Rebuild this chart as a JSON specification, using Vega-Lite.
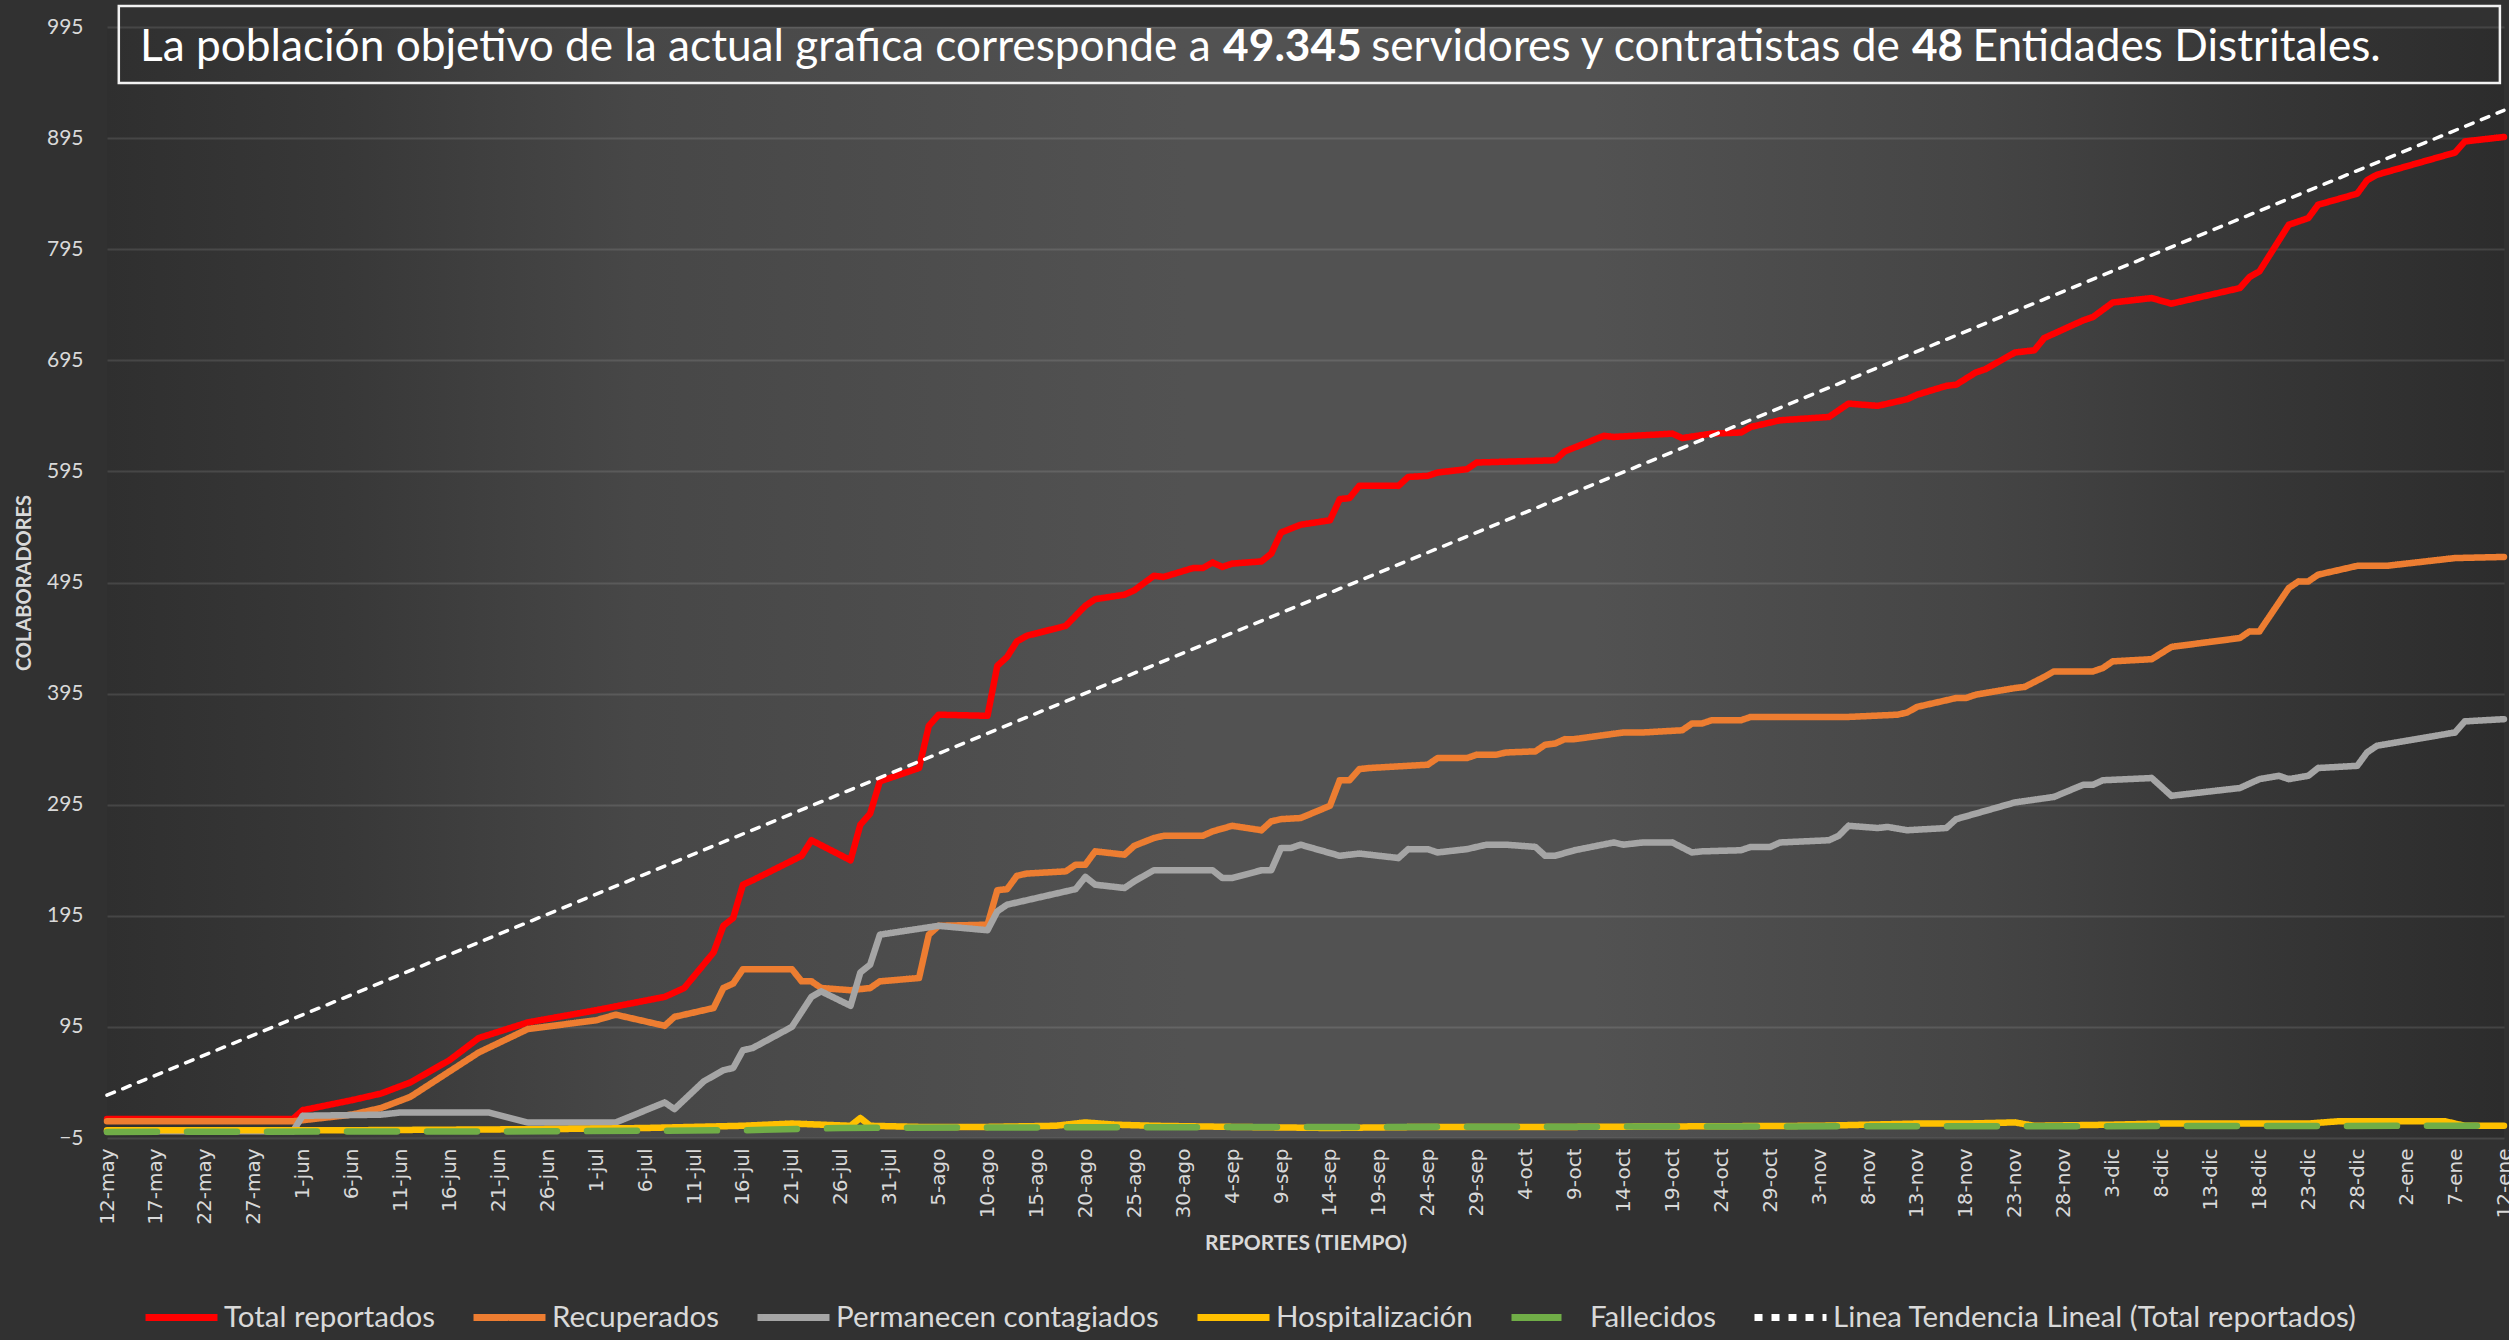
{
  "$schema": "https://vega.github.io/schema/vega-lite/v6.json",
  "usermeta": {"embedOptions": {"actions": false}},
  "width": 2397,
  "height": 1111,
  "autosize": {"type": "none"},
  "padding": {"left": 107, "top": 27, "right": 5, "bottom": 202},
  "background": "#313131",
  "config": {
    "view": {
      "stroke": null,
      "fill": {
        "gradient": "linear",
        "x1": 0, "y1": 0.5, "x2": 1, "y2": 0.5,
        "stops": [
          {"offset": 0, "color": "#2f2f2f"},
          {"offset": 0.1, "color": "#383838"},
          {"offset": 0.22, "color": "#474747"},
          {"offset": 0.45, "color": "#525252"},
          {"offset": 0.62, "color": "#525252"},
          {"offset": 0.78, "color": "#454545"},
          {"offset": 0.9, "color": "#363636"},
          {"offset": 1, "color": "#2c2c2c"}
        ]
      }
    },
    "legend": {
      "orient": "none",
      "legendX": 35,
      "legendY": 1251,
      "direction": "horizontal",
      "symbolType": "stroke",
      "symbolSize": 5184,
      "symbolStrokeWidth": 7,
      "labelFont": "Lato",
      "labelFontSize": 29.5,
      "labelColor": "#d9d9d9",
      "labelOffset": 3,
      "labelLimit": 0,
      "columnPadding": 24
    }
  },
  "datasets": {
    "series": [
      {"fecha": "2020-05-12", "serie": "Total reportados", "valor": 12},
      {"fecha": "2020-05-31", "serie": "Total reportados", "valor": 12},
      {"fecha": "2020-06-01", "serie": "Total reportados", "valor": 20},
      {"fecha": "2020-06-06", "serie": "Total reportados", "valor": 29},
      {"fecha": "2020-06-09", "serie": "Total reportados", "valor": 35},
      {"fecha": "2020-06-12", "serie": "Total reportados", "valor": 45},
      {"fecha": "2020-06-16", "serie": "Total reportados", "valor": 65},
      {"fecha": "2020-06-19", "serie": "Total reportados", "valor": 85},
      {"fecha": "2020-06-24", "serie": "Total reportados", "valor": 99},
      {"fecha": "2020-07-01", "serie": "Total reportados", "valor": 110},
      {"fecha": "2020-07-08", "serie": "Total reportados", "valor": 122},
      {"fecha": "2020-07-10", "serie": "Total reportados", "valor": 130},
      {"fecha": "2020-07-13", "serie": "Total reportados", "valor": 162},
      {"fecha": "2020-07-14", "serie": "Total reportados", "valor": 186},
      {"fecha": "2020-07-15", "serie": "Total reportados", "valor": 193},
      {"fecha": "2020-07-16", "serie": "Total reportados", "valor": 223},
      {"fecha": "2020-07-17", "serie": "Total reportados", "valor": 227},
      {"fecha": "2020-07-22", "serie": "Total reportados", "valor": 249},
      {"fecha": "2020-07-23", "serie": "Total reportados", "valor": 263},
      {"fecha": "2020-07-27", "serie": "Total reportados", "valor": 245},
      {"fecha": "2020-07-28", "serie": "Total reportados", "valor": 277},
      {"fecha": "2020-07-29", "serie": "Total reportados", "valor": 287},
      {"fecha": "2020-07-30", "serie": "Total reportados", "valor": 316},
      {"fecha": "2020-07-31", "serie": "Total reportados", "valor": 319},
      {"fecha": "2020-08-03", "serie": "Total reportados", "valor": 328},
      {"fecha": "2020-08-04", "serie": "Total reportados", "valor": 366},
      {"fecha": "2020-08-05", "serie": "Total reportados", "valor": 376},
      {"fecha": "2020-08-10", "serie": "Total reportados", "valor": 375},
      {"fecha": "2020-08-11", "serie": "Total reportados", "valor": 420},
      {"fecha": "2020-08-12", "serie": "Total reportados", "valor": 428},
      {"fecha": "2020-08-13", "serie": "Total reportados", "valor": 442},
      {"fecha": "2020-08-14", "serie": "Total reportados", "valor": 447},
      {"fecha": "2020-08-18", "serie": "Total reportados", "valor": 456},
      {"fecha": "2020-08-20", "serie": "Total reportados", "valor": 474},
      {"fecha": "2020-08-21", "serie": "Total reportados", "valor": 480},
      {"fecha": "2020-08-24", "serie": "Total reportados", "valor": 484},
      {"fecha": "2020-08-25", "serie": "Total reportados", "valor": 488},
      {"fecha": "2020-08-27", "serie": "Total reportados", "valor": 501},
      {"fecha": "2020-08-28", "serie": "Total reportados", "valor": 500},
      {"fecha": "2020-08-31", "serie": "Total reportados", "valor": 508},
      {"fecha": "2020-09-01", "serie": "Total reportados", "valor": 508},
      {"fecha": "2020-09-02", "serie": "Total reportados", "valor": 513},
      {"fecha": "2020-09-03", "serie": "Total reportados", "valor": 509},
      {"fecha": "2020-09-04", "serie": "Total reportados", "valor": 512},
      {"fecha": "2020-09-07", "serie": "Total reportados", "valor": 514},
      {"fecha": "2020-09-08", "serie": "Total reportados", "valor": 521},
      {"fecha": "2020-09-09", "serie": "Total reportados", "valor": 540},
      {"fecha": "2020-09-11", "serie": "Total reportados", "valor": 547},
      {"fecha": "2020-09-14", "serie": "Total reportados", "valor": 551},
      {"fecha": "2020-09-15", "serie": "Total reportados", "valor": 570},
      {"fecha": "2020-09-16", "serie": "Total reportados", "valor": 571},
      {"fecha": "2020-09-17", "serie": "Total reportados", "valor": 582},
      {"fecha": "2020-09-21", "serie": "Total reportados", "valor": 582},
      {"fecha": "2020-09-22", "serie": "Total reportados", "valor": 590},
      {"fecha": "2020-09-24", "serie": "Total reportados", "valor": 591},
      {"fecha": "2020-09-25", "serie": "Total reportados", "valor": 594},
      {"fecha": "2020-09-28", "serie": "Total reportados", "valor": 597},
      {"fecha": "2020-09-29", "serie": "Total reportados", "valor": 603},
      {"fecha": "2020-10-07", "serie": "Total reportados", "valor": 605},
      {"fecha": "2020-10-08", "serie": "Total reportados", "valor": 613},
      {"fecha": "2020-10-12", "serie": "Total reportados", "valor": 627},
      {"fecha": "2020-10-13", "serie": "Total reportados", "valor": 626},
      {"fecha": "2020-10-19", "serie": "Total reportados", "valor": 629},
      {"fecha": "2020-10-20", "serie": "Total reportados", "valor": 625},
      {"fecha": "2020-10-23", "serie": "Total reportados", "valor": 629},
      {"fecha": "2020-10-26", "serie": "Total reportados", "valor": 630},
      {"fecha": "2020-10-27", "serie": "Total reportados", "valor": 635},
      {"fecha": "2020-10-28", "serie": "Total reportados", "valor": 637},
      {"fecha": "2020-10-30", "serie": "Total reportados", "valor": 641},
      {"fecha": "2020-11-04", "serie": "Total reportados", "valor": 644},
      {"fecha": "2020-11-06", "serie": "Total reportados", "valor": 656},
      {"fecha": "2020-11-09", "serie": "Total reportados", "valor": 654},
      {"fecha": "2020-11-10", "serie": "Total reportados", "valor": 656},
      {"fecha": "2020-11-12", "serie": "Total reportados", "valor": 660},
      {"fecha": "2020-11-13", "serie": "Total reportados", "valor": 664},
      {"fecha": "2020-11-16", "serie": "Total reportados", "valor": 672},
      {"fecha": "2020-11-17", "serie": "Total reportados", "valor": 673},
      {"fecha": "2020-11-19", "serie": "Total reportados", "valor": 684},
      {"fecha": "2020-11-20", "serie": "Total reportados", "valor": 687},
      {"fecha": "2020-11-23", "serie": "Total reportados", "valor": 702},
      {"fecha": "2020-11-25", "serie": "Total reportados", "valor": 704},
      {"fecha": "2020-11-26", "serie": "Total reportados", "valor": 715},
      {"fecha": "2020-11-30", "serie": "Total reportados", "valor": 731},
      {"fecha": "2020-12-01", "serie": "Total reportados", "valor": 734},
      {"fecha": "2020-12-03", "serie": "Total reportados", "valor": 747},
      {"fecha": "2020-12-07", "serie": "Total reportados", "valor": 751},
      {"fecha": "2020-12-09", "serie": "Total reportados", "valor": 746},
      {"fecha": "2020-12-16", "serie": "Total reportados", "valor": 760},
      {"fecha": "2020-12-17", "serie": "Total reportados", "valor": 770},
      {"fecha": "2020-12-18", "serie": "Total reportados", "valor": 775},
      {"fecha": "2020-12-21", "serie": "Total reportados", "valor": 817},
      {"fecha": "2020-12-23", "serie": "Total reportados", "valor": 823},
      {"fecha": "2020-12-24", "serie": "Total reportados", "valor": 835},
      {"fecha": "2020-12-28", "serie": "Total reportados", "valor": 845},
      {"fecha": "2020-12-29", "serie": "Total reportados", "valor": 857},
      {"fecha": "2020-12-30", "serie": "Total reportados", "valor": 862},
      {"fecha": "2021-01-07", "serie": "Total reportados", "valor": 882},
      {"fecha": "2021-01-08", "serie": "Total reportados", "valor": 892},
      {"fecha": "2021-01-12", "serie": "Total reportados", "valor": 896},

      {"fecha": "2020-05-12", "serie": "Recuperados", "valor": 10},
      {"fecha": "2020-05-31", "serie": "Recuperados", "valor": 10},
      {"fecha": "2020-06-01", "serie": "Recuperados", "valor": 11},
      {"fecha": "2020-06-06", "serie": "Recuperados", "valor": 16},
      {"fecha": "2020-06-09", "serie": "Recuperados", "valor": 22},
      {"fecha": "2020-06-12", "serie": "Recuperados", "valor": 32},
      {"fecha": "2020-06-19", "serie": "Recuperados", "valor": 72},
      {"fecha": "2020-06-24", "serie": "Recuperados", "valor": 93},
      {"fecha": "2020-07-01", "serie": "Recuperados", "valor": 101},
      {"fecha": "2020-07-03", "serie": "Recuperados", "valor": 106},
      {"fecha": "2020-07-08", "serie": "Recuperados", "valor": 96},
      {"fecha": "2020-07-09", "serie": "Recuperados", "valor": 104},
      {"fecha": "2020-07-13", "serie": "Recuperados", "valor": 112},
      {"fecha": "2020-07-14", "serie": "Recuperados", "valor": 130},
      {"fecha": "2020-07-15", "serie": "Recuperados", "valor": 134},
      {"fecha": "2020-07-16", "serie": "Recuperados", "valor": 147},
      {"fecha": "2020-07-21", "serie": "Recuperados", "valor": 147},
      {"fecha": "2020-07-22", "serie": "Recuperados", "valor": 136},
      {"fecha": "2020-07-23", "serie": "Recuperados", "valor": 136},
      {"fecha": "2020-07-24", "serie": "Recuperados", "valor": 130},
      {"fecha": "2020-07-27", "serie": "Recuperados", "valor": 128},
      {"fecha": "2020-07-29", "serie": "Recuperados", "valor": 130},
      {"fecha": "2020-07-30", "serie": "Recuperados", "valor": 136},
      {"fecha": "2020-08-03", "serie": "Recuperados", "valor": 139},
      {"fecha": "2020-08-04", "serie": "Recuperados", "valor": 178},
      {"fecha": "2020-08-05", "serie": "Recuperados", "valor": 186},
      {"fecha": "2020-08-10", "serie": "Recuperados", "valor": 187},
      {"fecha": "2020-08-11", "serie": "Recuperados", "valor": 218},
      {"fecha": "2020-08-12", "serie": "Recuperados", "valor": 219},
      {"fecha": "2020-08-13", "serie": "Recuperados", "valor": 231},
      {"fecha": "2020-08-14", "serie": "Recuperados", "valor": 233},
      {"fecha": "2020-08-18", "serie": "Recuperados", "valor": 235},
      {"fecha": "2020-08-19", "serie": "Recuperados", "valor": 241},
      {"fecha": "2020-08-20", "serie": "Recuperados", "valor": 241},
      {"fecha": "2020-08-21", "serie": "Recuperados", "valor": 253},
      {"fecha": "2020-08-24", "serie": "Recuperados", "valor": 250},
      {"fecha": "2020-08-25", "serie": "Recuperados", "valor": 258},
      {"fecha": "2020-08-27", "serie": "Recuperados", "valor": 265},
      {"fecha": "2020-08-28", "serie": "Recuperados", "valor": 267},
      {"fecha": "2020-09-01", "serie": "Recuperados", "valor": 267},
      {"fecha": "2020-09-02", "serie": "Recuperados", "valor": 271},
      {"fecha": "2020-09-04", "serie": "Recuperados", "valor": 276},
      {"fecha": "2020-09-07", "serie": "Recuperados", "valor": 272},
      {"fecha": "2020-09-08", "serie": "Recuperados", "valor": 280},
      {"fecha": "2020-09-09", "serie": "Recuperados", "valor": 282},
      {"fecha": "2020-09-11", "serie": "Recuperados", "valor": 283},
      {"fecha": "2020-09-14", "serie": "Recuperados", "valor": 294},
      {"fecha": "2020-09-15", "serie": "Recuperados", "valor": 317},
      {"fecha": "2020-09-16", "serie": "Recuperados", "valor": 317},
      {"fecha": "2020-09-17", "serie": "Recuperados", "valor": 327},
      {"fecha": "2020-09-18", "serie": "Recuperados", "valor": 328},
      {"fecha": "2020-09-24", "serie": "Recuperados", "valor": 331},
      {"fecha": "2020-09-25", "serie": "Recuperados", "valor": 337},
      {"fecha": "2020-09-28", "serie": "Recuperados", "valor": 337},
      {"fecha": "2020-09-29", "serie": "Recuperados", "valor": 340},
      {"fecha": "2020-10-01", "serie": "Recuperados", "valor": 340},
      {"fecha": "2020-10-02", "serie": "Recuperados", "valor": 342},
      {"fecha": "2020-10-05", "serie": "Recuperados", "valor": 343},
      {"fecha": "2020-10-06", "serie": "Recuperados", "valor": 349},
      {"fecha": "2020-10-07", "serie": "Recuperados", "valor": 350},
      {"fecha": "2020-10-08", "serie": "Recuperados", "valor": 354},
      {"fecha": "2020-10-09", "serie": "Recuperados", "valor": 354},
      {"fecha": "2020-10-14", "serie": "Recuperados", "valor": 360},
      {"fecha": "2020-10-16", "serie": "Recuperados", "valor": 360},
      {"fecha": "2020-10-20", "serie": "Recuperados", "valor": 362},
      {"fecha": "2020-10-21", "serie": "Recuperados", "valor": 368},
      {"fecha": "2020-10-22", "serie": "Recuperados", "valor": 368},
      {"fecha": "2020-10-23", "serie": "Recuperados", "valor": 371},
      {"fecha": "2020-10-26", "serie": "Recuperados", "valor": 371},
      {"fecha": "2020-10-27", "serie": "Recuperados", "valor": 374},
      {"fecha": "2020-11-06", "serie": "Recuperados", "valor": 374},
      {"fecha": "2020-11-11", "serie": "Recuperados", "valor": 376},
      {"fecha": "2020-11-12", "serie": "Recuperados", "valor": 378},
      {"fecha": "2020-11-13", "serie": "Recuperados", "valor": 383},
      {"fecha": "2020-11-17", "serie": "Recuperados", "valor": 391},
      {"fecha": "2020-11-18", "serie": "Recuperados", "valor": 391},
      {"fecha": "2020-11-19", "serie": "Recuperados", "valor": 394},
      {"fecha": "2020-11-23", "serie": "Recuperados", "valor": 400},
      {"fecha": "2020-11-24", "serie": "Recuperados", "valor": 401},
      {"fecha": "2020-11-26", "serie": "Recuperados", "valor": 410},
      {"fecha": "2020-11-27", "serie": "Recuperados", "valor": 415},
      {"fecha": "2020-12-01", "serie": "Recuperados", "valor": 415},
      {"fecha": "2020-12-02", "serie": "Recuperados", "valor": 418},
      {"fecha": "2020-12-03", "serie": "Recuperados", "valor": 424},
      {"fecha": "2020-12-07", "serie": "Recuperados", "valor": 426},
      {"fecha": "2020-12-09", "serie": "Recuperados", "valor": 437},
      {"fecha": "2020-12-16", "serie": "Recuperados", "valor": 445},
      {"fecha": "2020-12-17", "serie": "Recuperados", "valor": 451},
      {"fecha": "2020-12-18", "serie": "Recuperados", "valor": 451},
      {"fecha": "2020-12-21", "serie": "Recuperados", "valor": 490},
      {"fecha": "2020-12-22", "serie": "Recuperados", "valor": 496},
      {"fecha": "2020-12-23", "serie": "Recuperados", "valor": 496},
      {"fecha": "2020-12-24", "serie": "Recuperados", "valor": 502},
      {"fecha": "2020-12-28", "serie": "Recuperados", "valor": 510},
      {"fecha": "2020-12-31", "serie": "Recuperados", "valor": 510},
      {"fecha": "2021-01-07", "serie": "Recuperados", "valor": 517},
      {"fecha": "2021-01-12", "serie": "Recuperados", "valor": 518},

      {"fecha": "2020-05-12", "serie": "Permanecen contagiados", "valor": 1},
      {"fecha": "2020-05-31", "serie": "Permanecen contagiados", "valor": 1},
      {"fecha": "2020-06-01", "serie": "Permanecen contagiados", "valor": 15},
      {"fecha": "2020-06-09", "serie": "Permanecen contagiados", "valor": 16},
      {"fecha": "2020-06-11", "serie": "Permanecen contagiados", "valor": 18},
      {"fecha": "2020-06-20", "serie": "Permanecen contagiados", "valor": 18},
      {"fecha": "2020-06-24", "serie": "Permanecen contagiados", "valor": 9},
      {"fecha": "2020-07-03", "serie": "Permanecen contagiados", "valor": 9},
      {"fecha": "2020-07-08", "serie": "Permanecen contagiados", "valor": 27},
      {"fecha": "2020-07-09", "serie": "Permanecen contagiados", "valor": 21},
      {"fecha": "2020-07-12", "serie": "Permanecen contagiados", "valor": 46},
      {"fecha": "2020-07-14", "serie": "Permanecen contagiados", "valor": 56},
      {"fecha": "2020-07-15", "serie": "Permanecen contagiados", "valor": 58},
      {"fecha": "2020-07-16", "serie": "Permanecen contagiados", "valor": 74},
      {"fecha": "2020-07-17", "serie": "Permanecen contagiados", "valor": 76},
      {"fecha": "2020-07-21", "serie": "Permanecen contagiados", "valor": 95},
      {"fecha": "2020-07-23", "serie": "Permanecen contagiados", "valor": 122},
      {"fecha": "2020-07-24", "serie": "Permanecen contagiados", "valor": 127},
      {"fecha": "2020-07-27", "serie": "Permanecen contagiados", "valor": 114},
      {"fecha": "2020-07-28", "serie": "Permanecen contagiados", "valor": 144},
      {"fecha": "2020-07-29", "serie": "Permanecen contagiados", "valor": 151},
      {"fecha": "2020-07-30", "serie": "Permanecen contagiados", "valor": 178},
      {"fecha": "2020-08-05", "serie": "Permanecen contagiados", "valor": 186},
      {"fecha": "2020-08-10", "serie": "Permanecen contagiados", "valor": 182},
      {"fecha": "2020-08-11", "serie": "Permanecen contagiados", "valor": 199},
      {"fecha": "2020-08-12", "serie": "Permanecen contagiados", "valor": 205},
      {"fecha": "2020-08-19", "serie": "Permanecen contagiados", "valor": 219},
      {"fecha": "2020-08-20", "serie": "Permanecen contagiados", "valor": 230},
      {"fecha": "2020-08-21", "serie": "Permanecen contagiados", "valor": 223},
      {"fecha": "2020-08-24", "serie": "Permanecen contagiados", "valor": 220},
      {"fecha": "2020-08-25", "serie": "Permanecen contagiados", "valor": 226},
      {"fecha": "2020-08-27", "serie": "Permanecen contagiados", "valor": 236},
      {"fecha": "2020-09-02", "serie": "Permanecen contagiados", "valor": 236},
      {"fecha": "2020-09-03", "serie": "Permanecen contagiados", "valor": 229},
      {"fecha": "2020-09-04", "serie": "Permanecen contagiados", "valor": 229},
      {"fecha": "2020-09-07", "serie": "Permanecen contagiados", "valor": 236},
      {"fecha": "2020-09-08", "serie": "Permanecen contagiados", "valor": 236},
      {"fecha": "2020-09-09", "serie": "Permanecen contagiados", "valor": 256},
      {"fecha": "2020-09-10", "serie": "Permanecen contagiados", "valor": 256},
      {"fecha": "2020-09-11", "serie": "Permanecen contagiados", "valor": 259},
      {"fecha": "2020-09-15", "serie": "Permanecen contagiados", "valor": 249},
      {"fecha": "2020-09-17", "serie": "Permanecen contagiados", "valor": 251},
      {"fecha": "2020-09-21", "serie": "Permanecen contagiados", "valor": 247},
      {"fecha": "2020-09-22", "serie": "Permanecen contagiados", "valor": 255},
      {"fecha": "2020-09-24", "serie": "Permanecen contagiados", "valor": 255},
      {"fecha": "2020-09-25", "serie": "Permanecen contagiados", "valor": 252},
      {"fecha": "2020-09-28", "serie": "Permanecen contagiados", "valor": 255},
      {"fecha": "2020-09-30", "serie": "Permanecen contagiados", "valor": 259},
      {"fecha": "2020-10-02", "serie": "Permanecen contagiados", "valor": 259},
      {"fecha": "2020-10-05", "serie": "Permanecen contagiados", "valor": 257},
      {"fecha": "2020-10-06", "serie": "Permanecen contagiados", "valor": 249},
      {"fecha": "2020-10-07", "serie": "Permanecen contagiados", "valor": 249},
      {"fecha": "2020-10-09", "serie": "Permanecen contagiados", "valor": 254},
      {"fecha": "2020-10-13", "serie": "Permanecen contagiados", "valor": 261},
      {"fecha": "2020-10-14", "serie": "Permanecen contagiados", "valor": 259},
      {"fecha": "2020-10-16", "serie": "Permanecen contagiados", "valor": 261},
      {"fecha": "2020-10-19", "serie": "Permanecen contagiados", "valor": 261},
      {"fecha": "2020-10-21", "serie": "Permanecen contagiados", "valor": 252},
      {"fecha": "2020-10-22", "serie": "Permanecen contagiados", "valor": 253},
      {"fecha": "2020-10-26", "serie": "Permanecen contagiados", "valor": 254},
      {"fecha": "2020-10-27", "serie": "Permanecen contagiados", "valor": 257},
      {"fecha": "2020-10-29", "serie": "Permanecen contagiados", "valor": 257},
      {"fecha": "2020-10-30", "serie": "Permanecen contagiados", "valor": 261},
      {"fecha": "2020-11-04", "serie": "Permanecen contagiados", "valor": 263},
      {"fecha": "2020-11-05", "serie": "Permanecen contagiados", "valor": 267},
      {"fecha": "2020-11-06", "serie": "Permanecen contagiados", "valor": 276},
      {"fecha": "2020-11-09", "serie": "Permanecen contagiados", "valor": 274},
      {"fecha": "2020-11-10", "serie": "Permanecen contagiados", "valor": 275},
      {"fecha": "2020-11-12", "serie": "Permanecen contagiados", "valor": 272},
      {"fecha": "2020-11-16", "serie": "Permanecen contagiados", "valor": 274},
      {"fecha": "2020-11-17", "serie": "Permanecen contagiados", "valor": 282},
      {"fecha": "2020-11-19", "serie": "Permanecen contagiados", "valor": 287},
      {"fecha": "2020-11-21", "serie": "Permanecen contagiados", "valor": 292},
      {"fecha": "2020-11-23", "serie": "Permanecen contagiados", "valor": 297},
      {"fecha": "2020-11-27", "serie": "Permanecen contagiados", "valor": 302},
      {"fecha": "2020-11-30", "serie": "Permanecen contagiados", "valor": 313},
      {"fecha": "2020-12-01", "serie": "Permanecen contagiados", "valor": 313},
      {"fecha": "2020-12-02", "serie": "Permanecen contagiados", "valor": 317},
      {"fecha": "2020-12-07", "serie": "Permanecen contagiados", "valor": 319},
      {"fecha": "2020-12-09", "serie": "Permanecen contagiados", "valor": 303},
      {"fecha": "2020-12-16", "serie": "Permanecen contagiados", "valor": 310},
      {"fecha": "2020-12-18", "serie": "Permanecen contagiados", "valor": 318},
      {"fecha": "2020-12-20", "serie": "Permanecen contagiados", "valor": 321},
      {"fecha": "2020-12-21", "serie": "Permanecen contagiados", "valor": 318},
      {"fecha": "2020-12-23", "serie": "Permanecen contagiados", "valor": 321},
      {"fecha": "2020-12-24", "serie": "Permanecen contagiados", "valor": 328},
      {"fecha": "2020-12-28", "serie": "Permanecen contagiados", "valor": 330},
      {"fecha": "2020-12-29", "serie": "Permanecen contagiados", "valor": 342},
      {"fecha": "2020-12-30", "serie": "Permanecen contagiados", "valor": 348},
      {"fecha": "2021-01-07", "serie": "Permanecen contagiados", "valor": 360},
      {"fecha": "2021-01-08", "serie": "Permanecen contagiados", "valor": 370},
      {"fecha": "2021-01-12", "serie": "Permanecen contagiados", "valor": 372},

      {"fecha": "2020-05-12", "serie": "Hospitalización", "valor": 2},
      {"fecha": "2020-05-31", "serie": "Hospitalización", "valor": 2},
      {"fecha": "2020-06-06", "serie": "Hospitalización", "valor": 2},
      {"fecha": "2020-06-26", "serie": "Hospitalización", "valor": 3},
      {"fecha": "2020-07-06", "serie": "Hospitalización", "valor": 4},
      {"fecha": "2020-07-11", "serie": "Hospitalización", "valor": 5},
      {"fecha": "2020-07-16", "serie": "Hospitalización", "valor": 6},
      {"fecha": "2020-07-21", "serie": "Hospitalización", "valor": 8},
      {"fecha": "2020-07-24", "serie": "Hospitalización", "valor": 7},
      {"fecha": "2020-07-27", "serie": "Hospitalización", "valor": 6},
      {"fecha": "2020-07-28", "serie": "Hospitalización", "valor": 13},
      {"fecha": "2020-07-29", "serie": "Hospitalización", "valor": 6},
      {"fecha": "2020-08-03", "serie": "Hospitalización", "valor": 5},
      {"fecha": "2020-08-10", "serie": "Hospitalización", "valor": 5},
      {"fecha": "2020-08-17", "serie": "Hospitalización", "valor": 6},
      {"fecha": "2020-08-20", "serie": "Hospitalización", "valor": 9},
      {"fecha": "2020-08-23", "serie": "Hospitalización", "valor": 7},
      {"fecha": "2020-08-27", "serie": "Hospitalización", "valor": 6},
      {"fecha": "2020-09-04", "serie": "Hospitalización", "valor": 5},
      {"fecha": "2020-09-14", "serie": "Hospitalización", "valor": 4},
      {"fecha": "2020-09-24", "serie": "Hospitalización", "valor": 5},
      {"fecha": "2020-10-09", "serie": "Hospitalización", "valor": 5},
      {"fecha": "2020-11-03", "serie": "Hospitalización", "valor": 6},
      {"fecha": "2020-11-13", "serie": "Hospitalización", "valor": 8},
      {"fecha": "2020-11-18", "serie": "Hospitalización", "valor": 8},
      {"fecha": "2020-11-23", "serie": "Hospitalización", "valor": 9},
      {"fecha": "2020-11-25", "serie": "Hospitalización", "valor": 6},
      {"fecha": "2020-12-03", "serie": "Hospitalización", "valor": 7},
      {"fecha": "2020-12-08", "serie": "Hospitalización", "valor": 8},
      {"fecha": "2020-12-23", "serie": "Hospitalización", "valor": 8},
      {"fecha": "2020-12-26", "serie": "Hospitalización", "valor": 10},
      {"fecha": "2021-01-06", "serie": "Hospitalización", "valor": 10},
      {"fecha": "2021-01-08", "serie": "Hospitalización", "valor": 6},
      {"fecha": "2021-01-12", "serie": "Hospitalización", "valor": 6},

      {"fecha": "2020-05-12", "serie": "Fallecidos", "valor": 0.5},
      {"fecha": "2020-06-26", "serie": "Fallecidos", "valor": 1},
      {"fecha": "2020-07-16", "serie": "Fallecidos", "valor": 2},
      {"fecha": "2020-07-26", "serie": "Fallecidos", "valor": 4},
      {"fecha": "2020-08-10", "serie": "Fallecidos", "valor": 4.5},
      {"fecha": "2020-09-19", "serie": "Fallecidos", "valor": 5},
      {"fecha": "2020-11-08", "serie": "Fallecidos", "valor": 5.5},
      {"fecha": "2021-01-12", "serie": "Fallecidos", "valor": 6}
    ],
    "tendencia": [
      {"fecha": "2020-05-12", "serie": "Linea Tendencia Lineal (Total reportados)", "valor": 33.5},
      {"fecha": "2021-01-12", "serie": "Linea Tendencia Lineal (Total reportados)", "valor": 920}
    ],
    "uno": [{}]
  },
  "layer": [
    {
      "data": {"name": "series"},
      "mark": {"type": "line", "strokeWidth": 6.5, "strokeCap": "round", "strokeJoin": "round"},
      "encoding": {
        "x": {
          "field": "fecha", "type": "temporal",
          "scale": {"type": "utc", "domain": [1589241600000, 1610409600000]},
          "axis": {
            "title": "REPORTES (TIEMPO)",
            "values": [1589241600000, 1589673600000, 1590105600000, 1590537600000, 1590969600000, 1591401600000, 1591833600000, 1592265600000, 1592697600000, 1593129600000, 1593561600000, 1593993600000, 1594425600000, 1594857600000, 1595289600000, 1595721600000, 1596153600000, 1596585600000, 1597017600000, 1597449600000, 1597881600000, 1598313600000, 1598745600000, 1599177600000, 1599609600000, 1600041600000, 1600473600000, 1600905600000, 1601337600000, 1601769600000, 1602201600000, 1602633600000, 1603065600000, 1603497600000, 1603929600000, 1604361600000, 1604793600000, 1605225600000, 1605657600000, 1606089600000, 1606521600000, 1606953600000, 1607385600000, 1607817600000, 1608249600000, 1608681600000, 1609113600000, 1609545600000, 1609977600000, 1610409600000],
            "labelExpr": "utcdate(datum.value) + '-' + ['ene','feb','mar','abr','may','jun','jul','ago','sep','oct','nov','dic'][utcmonth(datum.value)]",
            "labelAngle": 270,
            "labelFont": "DejaVu Sans",
            "labelFontSize": 20,
            "labelColor": "#d9d9d9",
            "labelPadding": 10,
            "labelOverlap": false,
            "labelFlush": false,
            "ticks": false,
            "domain": false,
            "grid": false,
            "titleFont": "Lato",
            "titleFontSize": 21,
            "titleFontWeight": "bold",
            "titleColor": "#d9d9d9",
            "titlePadding": 8
          }
        },
        "y": {
          "field": "valor", "type": "quantitative",
          "scale": {"domain": [-5, 995], "nice": false, "zero": false},
          "axis": {
            "title": "COLABORADORES",
            "values": [-5, 95, 195, 295, 395, 495, 595, 695, 795, 895, 995],
            "labelFont": "Lato",
            "labelFontSize": 21,
            "labelColor": "#d9d9d9",
            "labelPadding": 24,
            "ticks": false,
            "domain": false,
            "gridColor": "#ffffff",
            "gridOpacity": 0.11,
            "gridWidth": 2,
            "titleFont": "Lato",
            "titleFontSize": 20,
            "titleFontWeight": "bold",
            "titleColor": "#d9d9d9",
            "titlePadding": 12
          }
        },
        "color": {
          "field": "serie", "type": "nominal",
          "scale": {
            "domain": ["Total reportados", "Recuperados", "Permanecen contagiados", "Hospitalización", "Fallecidos", "Linea Tendencia Lineal (Total reportados)"],
            "range": ["#FF0000", "#ED7D31", "#A5A5A5", "#FFC000", "#70AD47", "#FFFFFF"]
          },
          "legend": {"title": null}
        },
        "strokeDash": {
          "field": "serie", "type": "nominal",
          "scale": {
            "domain": ["Total reportados", "Recuperados", "Permanecen contagiados", "Hospitalización", "Fallecidos", "Linea Tendencia Lineal (Total reportados)"],
            "range": [[1, 0], [1, 0], [1, 0], [1, 0], [50, 30], [8, 9]]
          },
          "legend": {"title": null}
        }
      }
    },
    {
      "data": {"name": "tendencia"},
      "mark": {"type": "line", "strokeWidth": 3.5, "strokeCap": "round"},
      "encoding": {
        "x": {"field": "fecha", "type": "temporal"},
        "y": {"field": "valor", "type": "quantitative"},
        "color": {"field": "serie", "type": "nominal"},
        "strokeDash": {"field": "serie", "type": "nominal"}
      }
    },
    {
      "data": {"name": "uno"},
      "mark": {"type": "rect", "fillOpacity": 0, "stroke": "#f2f2f2", "strokeWidth": 2.5},
      "encoding": {
        "x": {"datum": 1589345798400, "type": "temporal"},
        "x2": {"datum": 1610373312000},
        "y": {"datum": 1013.9, "type": "quantitative"},
        "y2": {"datum": 944.6}
      }
    },
    {
      "data": {"name": "uno"},
      "mark": {"type": "text", "text": "La población objetivo de la actual grafica corresponde a", "font": "Lato", "fontSize": 44.2, "color": "#ffffff", "align": "left", "baseline": "alphabetic"},
      "encoding": {
        "x": {"datum": 1589533027200, "type": "temporal"},
        "y": {"datum": 964.7, "type": "quantitative"}
      }
    },
    {
      "data": {"name": "uno"},
      "mark": {"type": "text", "text": "49.345", "font": "Lato", "fontSize": 44.2, "fontWeight": "bold", "color": "#ffffff", "align": "left", "baseline": "alphabetic"},
      "encoding": {
        "x": {"datum": 1599098112000, "type": "temporal"},
        "y": {"datum": 964.7, "type": "quantitative"}
      }
    },
    {
      "data": {"name": "uno"},
      "mark": {"type": "text", "text": "servidores y contratistas de", "font": "Lato", "fontSize": 44.2, "color": "#ffffff", "align": "left", "baseline": "alphabetic"},
      "encoding": {
        "x": {"datum": 1600405344000, "type": "temporal"},
        "y": {"datum": 964.7, "type": "quantitative"}
      }
    },
    {
      "data": {"name": "uno"},
      "mark": {"type": "text", "text": "48", "font": "Lato", "fontSize": 44.2, "fontWeight": "bold", "color": "#ffffff", "align": "left", "baseline": "alphabetic"},
      "encoding": {
        "x": {"datum": 1605180672000, "type": "temporal"},
        "y": {"datum": 964.7, "type": "quantitative"}
      }
    },
    {
      "data": {"name": "uno"},
      "mark": {"type": "text", "text": "Entidades Distritales.", "font": "Lato", "fontSize": 44.2, "color": "#ffffff", "align": "left", "baseline": "alphabetic"},
      "encoding": {
        "x": {"datum": 1605716352000, "type": "temporal"},
        "y": {"datum": 964.7, "type": "quantitative"}
      }
    }
  ]
}
